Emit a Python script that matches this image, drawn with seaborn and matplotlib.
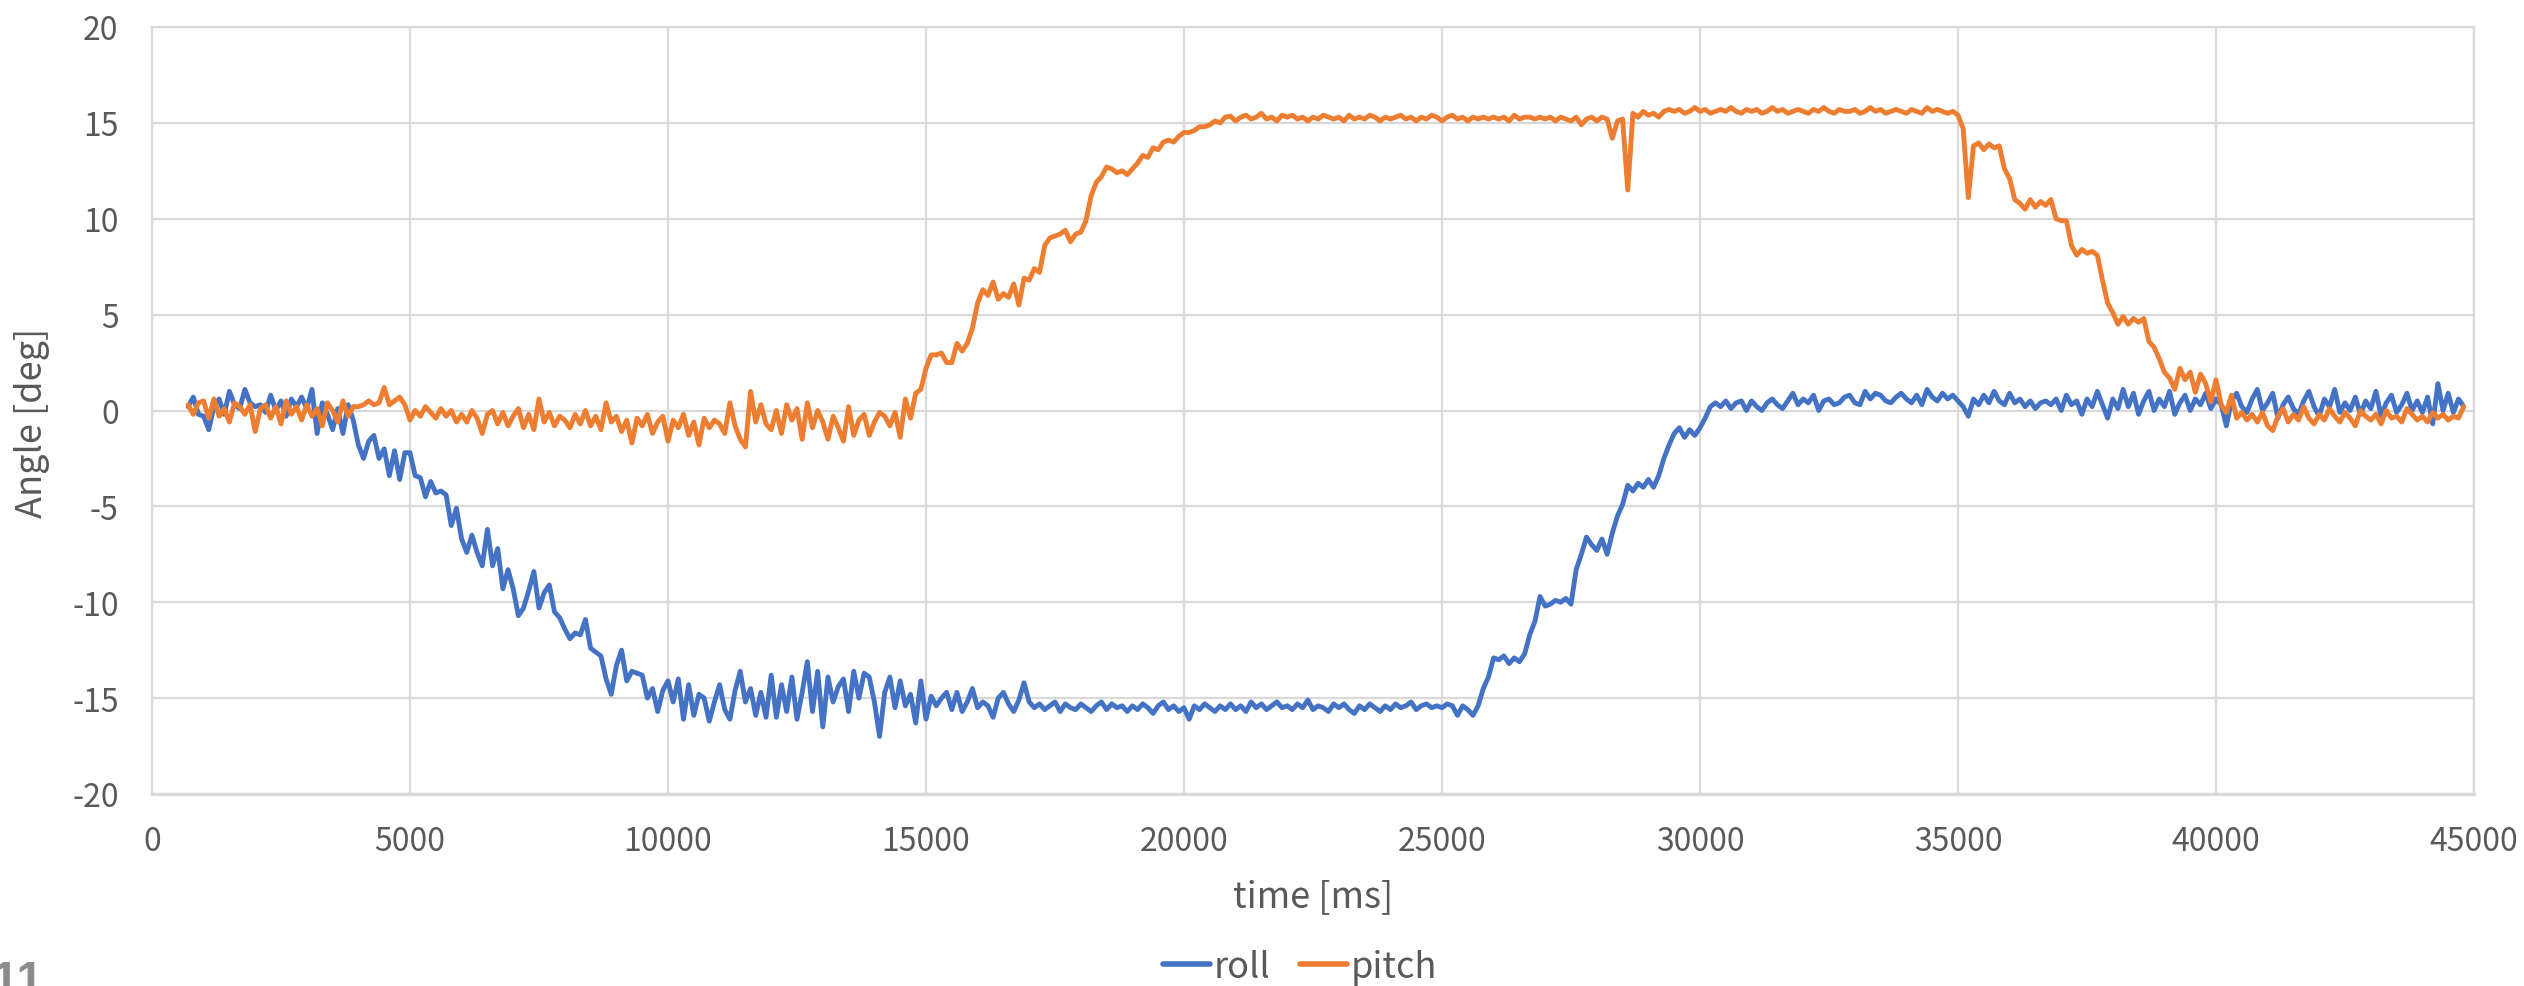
import numpy as np
import pandas as pd
import matplotlib
matplotlib.use("Agg")
import matplotlib.pyplot as plt
import seaborn as sns

# sample times (ms): logger records every 100 ms from 700 ms to 44800 ms
time_ms = list(range(700, 44801, 100))

roll = [
    0.2, 0.7, -0.2,
    -0.3, -1.0, 0.2, 0.6, -0.2, 1.0, 0.3, 0.1, 1.1, 0.4,
    0.2, 0.3, -0.1, 0.8, 0.0, 0.5, -0.3, 0.6, 0.2, 0.7,
    0.1, 1.1, -1.2, 0.4, -0.2, -1.0, 0.1, -1.2, 0.3, -0.5,
    -1.8, -2.5, -1.6, -1.3, -2.5, -2.0, -3.4, -2.1, -3.6, -2.2,
    -2.2, -3.4, -3.5, -4.5, -3.7, -4.3, -4.2, -4.4, -6.0, -5.1,
    -6.7, -7.4, -6.5, -7.4, -8.1, -6.2, -8.1, -7.2, -9.3, -8.3,
    -9.3, -10.7, -10.3, -9.4, -8.4, -10.3, -9.5, -9.1, -10.5, -10.8,
    -11.4, -11.9, -11.6, -11.7, -10.9, -12.4, -12.6, -12.8, -14.0, -14.8,
    -13.3, -12.5, -14.1, -13.6, -13.7, -13.8, -15.0, -14.5, -15.7, -14.6,
    -14.1, -15.2, -14.0, -16.1, -14.3, -15.9, -14.8, -15.0, -16.2, -15.2,
    -14.3, -15.6, -16.1, -14.6, -13.6, -15.2, -14.5, -15.9, -14.7, -16.0,
    -13.8, -16.0, -14.3, -15.7, -13.9, -16.1, -14.7, -13.1, -15.7, -13.6,
    -16.5, -13.9, -15.2, -14.4, -14.0, -15.7, -13.6, -15.0, -13.7, -13.9,
    -15.2, -17.0, -14.7, -13.9, -15.5, -14.1, -15.4, -14.8, -16.3, -14.1,
    -16.1, -14.9, -15.4, -15.0, -14.7, -15.6, -14.7, -15.7, -15.2, -14.5,
    -15.5, -15.2, -15.4, -16.0, -15.0, -14.7, -15.3, -15.7, -15.1, -14.2,
    -15.2, -15.5, -15.3, -15.6, -15.4, -15.2, -15.7, -15.3, -15.5, -15.6,
    -15.3, -15.5, -15.7, -15.4, -15.2, -15.6, -15.3, -15.5, -15.4, -15.7,
    -15.4, -15.6, -15.3, -15.5, -15.8, -15.4, -15.2, -15.6, -15.4, -15.7,
    -15.5, -16.1, -15.4, -15.6, -15.3, -15.5, -15.7, -15.4, -15.6, -15.3,
    -15.6, -15.4, -15.7, -15.2, -15.5, -15.3, -15.6, -15.4, -15.2, -15.5,
    -15.4, -15.6, -15.3, -15.5, -15.1, -15.6, -15.4, -15.5, -15.7, -15.3,
    -15.5, -15.3, -15.6, -15.8, -15.4, -15.6, -15.3, -15.5, -15.7, -15.4,
    -15.6, -15.3, -15.5, -15.4, -15.2, -15.6, -15.4, -15.3, -15.5, -15.4,
    -15.5, -15.3, -15.4, -15.9, -15.4, -15.6, -15.9, -15.4, -14.5, -13.9,
    -12.9, -13.0, -12.8, -13.2, -12.9, -13.1, -12.7, -11.7, -11.0, -9.7,
    -10.2, -10.1, -9.9, -10.0, -9.8, -10.1, -8.3, -7.5, -6.6, -7.0,
    -7.3, -6.7, -7.5, -6.4, -5.5, -4.9, -3.9, -4.2, -3.8, -4.0,
    -3.6, -4.0, -3.4, -2.5, -1.8, -1.2, -0.9, -1.4, -1.0, -1.3,
    -0.9, -0.4, 0.2, 0.4, 0.2, 0.5, 0.1, 0.4, 0.5, 0.0,
    0.5, 0.2, 0.0, 0.4, 0.6, 0.3, 0.1, 0.5, 0.9, 0.3,
    0.6, 0.4, 0.8, 0.0, 0.5, 0.6, 0.3, 0.4, 0.7, 0.8,
    0.4, 0.3, 1.0, 0.6, 0.9, 0.8, 0.5, 0.4, 0.7, 0.9,
    0.6, 0.4, 0.8, 0.3, 1.1, 0.7, 0.5, 0.9, 0.6, 0.8,
    0.5, 0.2, -0.3, 0.6, 0.3, 0.8, 0.4, 1.0, 0.5, 0.3,
    0.9, 0.4, 0.6, 0.2, 0.5, 0.1, 0.4, 0.5, 0.3, 0.6,
    0.0, 0.8, 0.3, 0.5, -0.2, 0.6, 0.2, 1.0, 0.3, -0.4,
    0.6, 0.1, 1.1, 0.2, 0.9, -0.2, 0.5, 1.0, 0.0, 0.6,
    0.2, 1.0, -0.2, 0.4, 0.8, 0.0, 0.6, 0.3, 0.9, 0.1,
    0.6, 0.3, -0.8, 0.5, 0.9, 0.2, -0.1, 0.6, 1.1, 0.0,
    0.4, 0.9, -0.4, 0.3, 0.7, 0.1, -0.2, 0.5, 1.0, 0.2,
    -0.3, 0.6, 0.2, 1.1, -0.1, 0.4, 0.0, 0.7, -0.2, 0.5,
    0.1, 1.0, -0.3, 0.4, 0.8, -0.1, 0.3, 0.9, 0.0, 0.5,
    -0.1, 0.7, -0.7, 1.4, 0.0, 0.9, -0.1, 0.6, 0.2,
]

pitch = [
    0.3, -0.2, 0.4,
    0.5, -0.4, 0.6, -0.3, 0.1, -0.6, 0.4, 0.2, -0.2, 0.3,
    -1.1, 0.1, 0.3, -0.4, 0.2, -0.7, 0.5, -0.2, 0.2, -0.5,
    0.3, -0.3, 0.1, -0.8, 0.4, 0.0, -0.6, 0.5, -0.3, 0.2,
    0.2, 0.3, 0.5, 0.3, 0.4, 1.2, 0.3, 0.5, 0.7, 0.3,
    -0.5, 0.0, -0.3, 0.2, -0.1, -0.4, 0.1, -0.3, 0.0, -0.6,
    -0.2, -0.6, 0.0, -0.4, -1.2, -0.2, 0.0, -0.7, -0.1, -0.8,
    -0.3, 0.1, -0.9, -0.2, -1.0, 0.6, -0.6, -0.1, -0.8, -0.3,
    -0.5, -0.9, -0.2, -0.7, 0.0, -0.8, -0.3, -1.0, 0.4, -0.6,
    -0.3, -1.1, -0.5, -1.7, -0.4, -0.8, -0.2, -1.2, -0.6, -0.3,
    -1.6, -0.5, -0.9, -0.2, -1.3, -0.6, -1.8, -0.4, -0.9, -0.5,
    -0.7, -1.2, 0.4, -0.8, -1.5, -1.9, 1.0, -0.6, 0.3, -0.7,
    -1.0, 0.0, -1.2, 0.3, -0.5, 0.1, -1.5, 0.4, -0.9, 0.0,
    -0.6, -1.5, -0.3, -0.9, -1.6, 0.2, -1.3, -0.5, -0.2, -1.3,
    -0.6, -0.1, -0.3, -0.8, -0.1, -1.4, 0.6, -0.4, 0.9, 1.1,
    2.2, 2.9, 2.9, 3.0, 2.5, 2.5, 3.5, 3.1, 3.5, 4.3,
    5.6, 6.3, 6.0, 6.7, 5.8, 6.1, 5.9, 6.6, 5.5, 6.9,
    6.8, 7.4, 7.2, 8.6, 9.0, 9.1, 9.2, 9.4, 8.8, 9.2,
    9.3, 9.9, 11.2, 11.9, 12.2, 12.7, 12.6, 12.4, 12.5, 12.3,
    12.6, 12.9, 13.3, 13.2, 13.7, 13.6, 14.0, 14.1, 14.0, 14.3,
    14.5, 14.5, 14.6, 14.8, 14.8, 14.9, 15.1, 15.0, 15.3, 15.35,
    15.1, 15.3, 15.4, 15.2, 15.3, 15.5, 15.2, 15.3, 15.1, 15.4,
    15.3, 15.4, 15.2, 15.3, 15.1, 15.3, 15.2, 15.4, 15.3, 15.2,
    15.3, 15.1, 15.4, 15.2, 15.3, 15.2, 15.4, 15.3, 15.1, 15.3,
    15.2, 15.3, 15.4, 15.2, 15.3, 15.1, 15.3, 15.2, 15.4, 15.3,
    15.1, 15.3, 15.4, 15.2, 15.3, 15.1, 15.3, 15.2, 15.3, 15.2,
    15.3, 15.2, 15.3, 15.1, 15.4, 15.2, 15.3, 15.3, 15.2, 15.3,
    15.2, 15.3, 15.1, 15.3, 15.2, 15.1, 15.3, 14.9, 15.2, 15.3,
    15.1, 15.3, 15.2, 14.2, 15.1, 15.2, 11.5, 15.5, 15.3, 15.6,
    15.4, 15.5, 15.3, 15.6, 15.7, 15.6, 15.7, 15.5, 15.6, 15.8,
    15.6, 15.7, 15.5, 15.6, 15.7, 15.6, 15.8, 15.6, 15.5, 15.7,
    15.6, 15.7, 15.5, 15.6, 15.8, 15.6, 15.7, 15.5, 15.6, 15.7,
    15.6, 15.5, 15.7, 15.6, 15.8, 15.6, 15.5, 15.7, 15.6, 15.6,
    15.7, 15.5, 15.6, 15.8, 15.6, 15.7, 15.5, 15.6, 15.7, 15.6,
    15.5, 15.7, 15.6, 15.5, 15.8, 15.6, 15.7, 15.6, 15.5, 15.6,
    15.4, 14.7, 11.1, 13.8, 13.95, 13.6, 13.9, 13.7, 13.8, 12.6,
    12.1, 11.0, 10.8, 10.5, 11.0, 10.6, 10.9, 10.7, 11.0, 10.0,
    9.9, 9.9, 8.6, 8.1, 8.4, 8.2, 8.3, 8.1, 6.8, 5.6,
    5.1, 4.5, 4.9, 4.5, 4.8, 4.6, 4.8, 3.6, 3.3, 2.7,
    2.0, 1.7, 1.1, 2.2, 1.6, 2.0, 0.95, 1.9, 1.4, 0.45,
    1.6, 0.3, -0.1, 0.8, -0.4, -0.1, -0.5, -0.2, -0.6, -0.1,
    -0.8, -1.05, -0.3, 0.1, -0.6, -0.2, -0.5, 0.2, -0.4, -0.7,
    -0.2, -0.5, 0.1, -0.3, -0.6, -0.1, -0.4, -0.8, 0.0, -0.3,
    -0.5, -0.2, -0.7, 0.0, -0.4, -0.3, -0.6, 0.1, -0.2, -0.5,
    -0.3, -0.6, -0.1, -0.4, -0.2, -0.5, -0.3, -0.4, 0.2,
]

series_names = ["roll", "pitch"]
series_colors = ["#4472C4", "#ED7D31"]
x_ticks = [0, 5000, 10000, 15000, 20000, 25000, 30000, 35000, 40000, 45000]
y_ticks = [-20, -15, -10, -5, 0, 5, 10, 15, 20]
x_title = "time [ms]"
y_title = "Angle [deg]"
page_number = "11"

df = pd.concat([
    pd.DataFrame({"time": time_ms, "angle": roll, "series": "roll"}),
    pd.DataFrame({"time": time_ms, "angle": pitch, "series": "pitch"}),
], ignore_index=True)

sns.set_theme(style="white")
plt.rcParams["font.family"] = ["Noto Sans CJK JP", "DejaVu Sans"]

TXT = "#595959"
GRID = "#D9D9D9"

fig = plt.figure(figsize=(25.24, 9.87), dpi=100)
ax = fig.add_axes([152 / 2524, 1 - 795 / 987, 2322 / 2524, 767 / 987])

sns.lineplot(data=df, x="time", y="angle", hue="series", hue_order=series_names,
             palette=dict(zip(series_names, series_colors)), estimator=None,
             sort=False, linewidth=3.5, ax=ax)

ax.set_xlim(0, 45000)
ax.set_ylim(-20, 20)
ax.set_xticks(x_ticks)
ax.set_yticks(y_ticks)
ax.set_xticklabels([str(v) for v in x_ticks])
ax.set_yticklabels([str(v) for v in y_ticks])
ax.grid(True, color=GRID, linewidth=1.6)
ax.set_axisbelow(True)
for s in ax.spines.values():
    s.set_color(GRID)
    s.set_linewidth(1.6)
ax.spines["bottom"].set_linewidth(2.4)
ax.tick_params(axis="both", length=0, labelsize=23, labelcolor=TXT)
ax.tick_params(axis="y", pad=24)
ax.tick_params(axis="x", pad=22)

ax.set_xlabel(x_title, fontsize=26, color=TXT)
ax.set_ylabel(y_title, fontsize=26, color=TXT)
ax.xaxis.set_label_coords(0.5, (795 - 897) / 767)
ax.xaxis.label.set_va("center")
ax.yaxis.set_label_coords((32 - 152) / 2322, 0.485)
ax.yaxis.label.set_va("center")

handles, labels = ax.get_legend_handles_labels()
ax.legend(handles, labels, loc="center", bbox_to_anchor=(1300 / 2524, 1 - 968 / 987),
          bbox_transform=fig.transFigure, ncol=2, frameon=False, fontsize=26,
          labelcolor=TXT, handlelength=1.3, handletextpad=0.1, columnspacing=0.8,
          borderaxespad=0, borderpad=0)
for line in ax.get_legend().get_lines():
    line.set_linewidth(4)

fig.text(-0.003, 1 - 960 / 987, page_number, fontsize=35, fontweight="bold",
         color="#8C8C8C", ha="left", va="top", family=["Liberation Sans", "DejaVu Sans"])

fig.savefig("out.png", dpi=100, facecolor="white")
